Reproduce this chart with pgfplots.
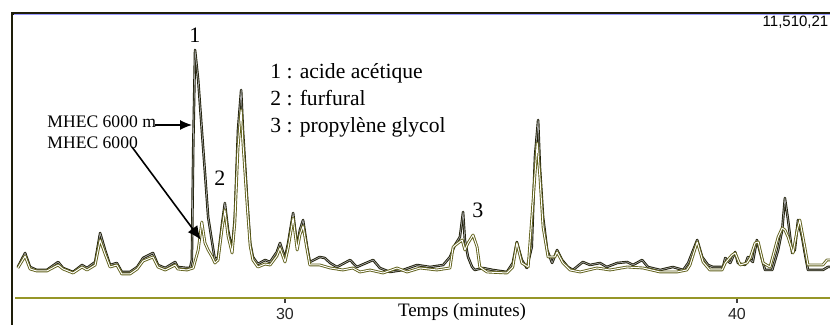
\documentclass[border=0pt]{standalone}
\usepackage{pgfplots}
\pgfplotsset{compat=1.18}
\usepackage{pgfplotstable}
\usetikzlibrary{arrows.meta}
\usepackage{fontspec}
\setmainfont{Liberation Serif}
\setsansfont{Liberation Sans}
\definecolor{frameblk}{RGB}{30,30,10}
\definecolor{axolive}{RGB}{150,150,40}
\definecolor{traceA}{RGB}{30,30,8}
\definecolor{traceB}{RGB}{95,95,25}

\pgfplotstableread{
x y
24.09 31
24.25 45
24.36 31
24.51 28
24.73 28
24.98 36
25.09 30
25.31 26
25.51 33
25.62 30
25.80 36
25.91 65
26.02 48
26.13 33
26.28 35
26.39 26
26.57 26
26.73 31
26.86 40
27.08 45
27.19 33
27.35 30
27.57 36
27.63 31
27.83 30
27.90 30
27.94 38
27.97 150
28.01 248
28.08 218
28.16 168
28.23 125
28.30 81
28.39 55
28.45 38
28.52 41
28.61 75
28.67 95
28.74 68
28.83 48
28.89 81
28.96 168
29.03 208
29.07 168
29.16 101
29.23 55
29.29 41
29.40 34
29.56 38
29.67 36
29.82 46
29.89 55
30.00 40
30.07 55
30.18 85
30.27 51
30.33 68
30.40 78
30.49 51
30.55 36
30.77 41
30.88 40
31.00 35
31.15 31
31.44 38
31.59 31
31.95 38
32.10 30
32.32 26
32.61 28
32.92 33
33.21 31
33.50 33
33.65 41
33.76 53
33.87 61
33.94 86
33.98 58
34.05 41
34.14 31
34.20 28
34.38 30
34.60 28
34.91 26
35.04 35
35.13 56
35.24 38
35.35 30
35.46 51
35.53 141
35.60 178
35.64 131
35.71 81
35.80 48
35.91 35
36.02 48
36.13 38
36.26 31
36.37 28
36.59 36
36.75 33
36.97 35
37.12 31
37.35 35
37.57 36
37.70 33
37.90 38
38.03 31
38.30 28
38.58 31
38.81 28
38.92 35
39.12 58
39.23 41
39.36 33
39.47 31
39.69 31
39.74 40
39.85 35
39.96 46
40.02 35
40.18 33
40.24 41
40.35 36
40.44 58
40.51 46
40.62 28
40.78 28
40.91 48
41.00 68
41.06 100
41.13 78
41.22 45
41.28 48
41.35 78
41.44 61
41.50 45
41.57 28
41.90 28
42.01 31
42.06 31
}\traceA

\pgfplotstableread{
x y
24.09 30
24.25 42
24.36 29
24.51 27
24.73 27
24.98 33
25.09 29
25.31 25
25.51 31
25.62 28
25.80 33
25.91 58
26.02 44
26.13 31
26.28 33
26.39 24
26.57 24
26.73 29
26.86 37
27.08 41
27.19 31
27.35 28
27.57 33
27.63 29
27.83 28
27.97 30
28.08 48
28.16 76
28.23 55
28.30 48
28.39 41
28.45 35
28.52 38
28.61 70
28.67 88
28.74 62
28.83 45
28.89 75
28.96 150
29.03 188
29.07 155
29.16 95
29.23 52
29.29 38
29.40 31
29.56 34
29.67 33
29.82 42
29.89 50
30.00 36
30.07 50
30.18 80
30.27 48
30.33 63
30.40 72
30.49 48
30.55 33
30.77 33
31.00 30
31.28 28
31.50 30
31.66 26
31.88 28
32.17 25
32.48 30
32.70 26
32.99 30
33.36 28
33.65 30
33.72 51
33.83 55
33.92 58
33.98 48
34.05 55
34.16 63
34.25 51
34.31 31
34.47 26
34.91 25
35.04 31
35.13 55
35.24 35
35.38 31
35.49 98
35.58 155
35.64 121
35.71 71
35.82 41
35.97 41
36.02 46
36.15 35
36.31 28
36.53 26
36.90 30
37.19 28
37.57 31
37.92 30
38.30 26
38.67 26
38.89 28
38.96 33
39.12 56
39.25 36
39.40 28
39.67 28
39.74 35
39.89 43
39.96 45
40.07 33
40.22 35
40.29 40
40.40 55
40.47 56
40.58 35
40.73 31
40.91 61
41.00 70
41.06 68
41.13 61
41.24 45
41.33 68
41.39 78
41.50 51
41.57 33
41.90 33
41.99 38
42.06 38
}\traceB

\begin{document}
\begin{tikzpicture}
\begin{axis}[
  scale only axis,
  width=415pt, height=149pt,
  xmin=23.695, xmax=42.058,
  ymin=0, ymax=298,
  clip=false,
  axis x line=bottom,
  axis y line=none,
  x axis line style={draw=none,-},
  xtick={30,40},
  ytick=\empty,
  tick align=outside,
  major tick length=2.5pt,
  x tick style={black!75, line width=0.8pt},
  tick label style={font=\sffamily\fontsize{8}{9}\selectfont, text=black!85},
  /pgf/number format/assume math mode=true,
  xticklabel style={yshift=1pt},
]
% frame and axis line
\draw[axolive, line width=0.8pt] (axis cs:24.027,0) -- (axis cs:42.058,0);
\draw[frameblk, line width=1.1pt] (axis cs:23.960,-30) -- (axis cs:23.960,284.5) -- (axis cs:42.10,284.5);
\draw[blue!40, line width=0.3pt] (axis cs:24.00,283.2) -- (axis cs:42.10,283.2);

\addplot[traceA, line width=0.45pt, double=black!35, double distance=0.35pt, line join=round] table[x=x,y=y] {\traceA};
\addplot[traceB, line width=0.45pt, double=white, double distance=0.5pt, line join=round] table[x=x,y=y] {\traceB};

% texts
\node[font=\fontsize{11}{12}\selectfont] at (axis cs:28.009,263) {1};
\node[font=\fontsize{11}{12}\selectfont] at (axis cs:28.562,120) {2};
\node[font=\fontsize{11}{12}\selectfont] at (axis cs:34.270,88) {3};
\node[anchor=west, font=\fontsize{10.8}{12}\selectfont, inner sep=0pt] at (axis cs:29.668,225) {1 : acide acétique};
\node[anchor=west, font=\fontsize{10.8}{12}\selectfont, inner sep=0pt] at (axis cs:29.668,200) {2 : furfural};
\node[anchor=west, font=\fontsize{10.8}{12}\selectfont, inner sep=0pt] at (axis cs:29.668,171) {3 : propylène glycol};
\node[anchor=west, font=\fontsize{8.8}{10}\selectfont, inner sep=0pt] at (axis cs:24.735,176) {MHEC 6000 m};
\node[anchor=west, font=\fontsize{8.8}{10}\selectfont, inner sep=0pt] at (axis cs:24.735,155) {MHEC 6000};
\draw[-{Latex[length=6pt,width=5pt]}, black, line width=0.6pt] (axis cs:27.124,173) -- (axis cs:27.943,173);
\draw[-{Latex[length=7pt,width=6pt]}, black, line width=0.8pt] (axis cs:26.615,151) -- (axis cs:28.142,58);
\node[font=\fontsize{9.5}{11}\selectfont] at (axis cs:33.916,-14) {Temps (minutes)};
\node[anchor=east, font=\sffamily\fontsize{7.5}{8}\selectfont, inner sep=0pt] at (axis cs:42.03,276) {11,510,21};

\coordinate (BL) at (axis cs:23.695,-27);
\coordinate (TR) at (axis cs:42.058,298);
\end{axis}
\pgfresetboundingbox
\useasboundingbox (BL) rectangle (TR);
\end{tikzpicture}
\end{document}
